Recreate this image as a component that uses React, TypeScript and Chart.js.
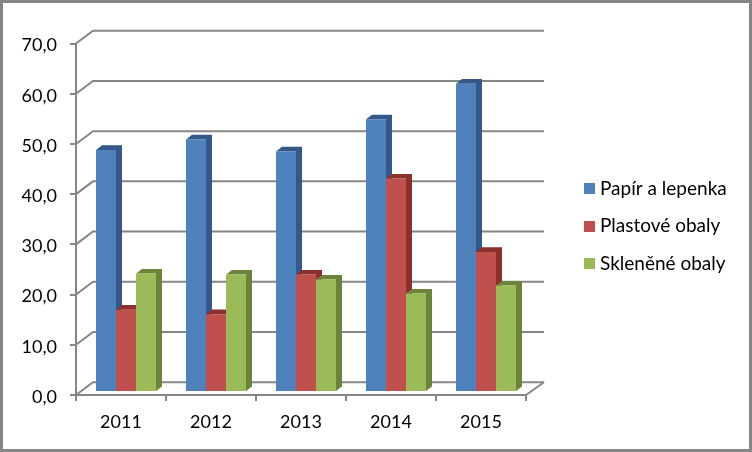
import React, { useEffect, useRef } from "react";
import { Chart, registerables } from "chart.js";

Chart.register(...registerables);

const categories = ["2011", "2012", "2013", "2014", "2015"];
const paperValues = [48.2, 50.3, 47.9, 54.3, 61.4];
const plasticValues = [16.4, 15.5, 23.4, 42.5, 27.9];
const glassValues = [23.6, 23.4, 22.4, 19.6, 21.2];
const seriesNames = ["Papír a lepenka", "Plastové obaly", "Skleněné obaly"];
const faceColors = ["#4F81BD", "#C0504D", "#9BBB59"];
const sideColors = ["#34588A", "#8C302D", "#6C8439"];

const AXIS = "#868686";
const FONT = "Lato";
const WALL_DX = 17;
const WALL_DY = 12.8;
const BAR_DX = 5;
const BAR_DY = -3;
const DEPTH_X = 6;
const DEPTH_Y = 4.6;
const SWATCH = 11;

function makeSwatch(color: string) {
  const c = document.createElement("canvas");
  c.width = SWATCH;
  c.height = SWATCH;
  const g = c.getContext("2d")!;
  g.fillStyle = color;
  g.fillRect(0, 0, SWATCH, SWATCH);
  return c;
}

const scene3d = {
  id: "scene3d",
  afterLayout(chart: any) {
    const legend = chart.legend;
    const h = legend.height;
    const w = legend.width;
    legend.left = 570;
    legend.right = 570 + w;
    legend.top = 226 - h / 2;
    legend.bottom = legend.top + h;
  },
  beforeDatasetsDraw(chart: any) {
    const { ctx, scales } = chart;
    const { x, y } = scales;
    ctx.save();
    ctx.strokeStyle = AXIS;
    ctx.lineWidth = 2;
    y.ticks.forEach((t: any) => {
      const py = y.getPixelForValue(t.value);
      ctx.beginPath();
      ctx.moveTo(x.left, py);
      ctx.lineTo(x.left + WALL_DX, py - WALL_DY);
      ctx.lineTo(x.right + WALL_DX + 1, py - WALL_DY);
      ctx.stroke();
    });
    const by = y.getPixelForValue(0);
    ctx.beginPath();
    ctx.moveTo(x.right, by);
    ctx.lineTo(x.right + WALL_DX + 1, by - WALL_DY);
    ctx.stroke();
    ctx.restore();

    ctx.save();
    ctx.translate(BAR_DX, BAR_DY);
    for (let c = 0; c < categories.length; c++) {
      chart.data.datasets.forEach((_: any, d: number) => {
        const bar = chart.getDatasetMeta(d).data[c];
        const l = bar.x - bar.width / 2;
        const r = bar.x + bar.width / 2;
        const t = bar.y;
        const b = bar.base;
        ctx.fillStyle = sideColors[d];
        ctx.beginPath();
        ctx.moveTo(l, t);
        ctx.lineTo(l + DEPTH_X, t - DEPTH_Y);
        ctx.lineTo(r + DEPTH_X, t - DEPTH_Y);
        ctx.lineTo(r + DEPTH_X, b - DEPTH_Y);
        ctx.lineTo(r, b);
        ctx.lineTo(r, t);
        ctx.closePath();
        ctx.fill();
      });
    }
  },
  afterDatasetsDraw(chart: any) {
    chart.ctx.restore();
  },
  afterDraw(chart: any) {
    const { ctx } = chart;
    ctx.save();
    ctx.strokeStyle = AXIS;
    ctx.lineWidth = 3;
    ctx.strokeRect(1.5, 1.5, 749, 449);
    ctx.restore();
  },
};

export default function App() {
  const ref = useRef<HTMLCanvasElement>(null);
  useEffect(() => {
    const allValues = [paperValues, plasticValues, glassValues];
    const swatches = faceColors.map(makeSwatch);
    const chart = new Chart(ref.current!, {
      type: "bar",
      data: {
        labels: categories,
        datasets: allValues.map((data, i) => ({
          label: seriesNames[i],
          data,
          backgroundColor: faceColors[i],
          borderWidth: 0,
          categoryPercentage: 2 / 3,
          barPercentage: 1,
          clip: false as any,
        })),
      },
      options: {
        animation: false,
        responsive: false,
        layout: { padding: { top: 43.5, left: 0, right: 226, bottom: 0 } },
        plugins: {
          tooltip: { enabled: false },
          legend: {
            position: "chartArea" as any,
            labels: {
              usePointStyle: true,
              pointStyleWidth: 2,
              padding: 18.5,
              color: "#000",
              font: { family: FONT, size: 19 },
              generateLabels: (c: any) =>
                Chart.defaults.plugins.legend.labels
                  .generateLabels(c)
                  .map((item: any, i: number) => ({ ...item, pointStyle: swatches[i] })),
            },
          },
        },
        scales: {
          x: {
            afterFit: (s: any) => {
              s.height = 57;
            },
            border: { color: AXIS, width: 2 },
            grid: {
              drawOnChartArea: false,
              offset: true,
              color: AXIS,
              lineWidth: 2,
              tickLength: 6,
            },
            ticks: { color: "#000", font: { family: FONT, size: 18 }, padding: 10, maxRotation: 0 },
          },
          y: {
            min: 0,
            max: 70,
            afterFit: (s: any) => {
              s.width = 76;
            },
            border: { color: AXIS, width: 2 },
            grid: {
              drawOnChartArea: false,
              color: AXIS,
              lineWidth: 2,
              tickLength: 6,
            },
            ticks: {
              stepSize: 10,
              color: "#000",
              font: { family: FONT, size: 18 },
              padding: 13,
              labelOffset: 2,
              callback: (v: any) => Number(v).toFixed(1).replace(".", ","),
            },
          },
        },
      },
      plugins: [scene3d],
    });
    return () => chart.destroy();
  }, []);
  return (
    <div style={{ position: "fixed", left: 0, top: 0, width: 752, height: 452, background: "#fff" }}>
      <canvas ref={ref} width={752} height={452} style={{ display: "block" }} />
    </div>
  );
}
